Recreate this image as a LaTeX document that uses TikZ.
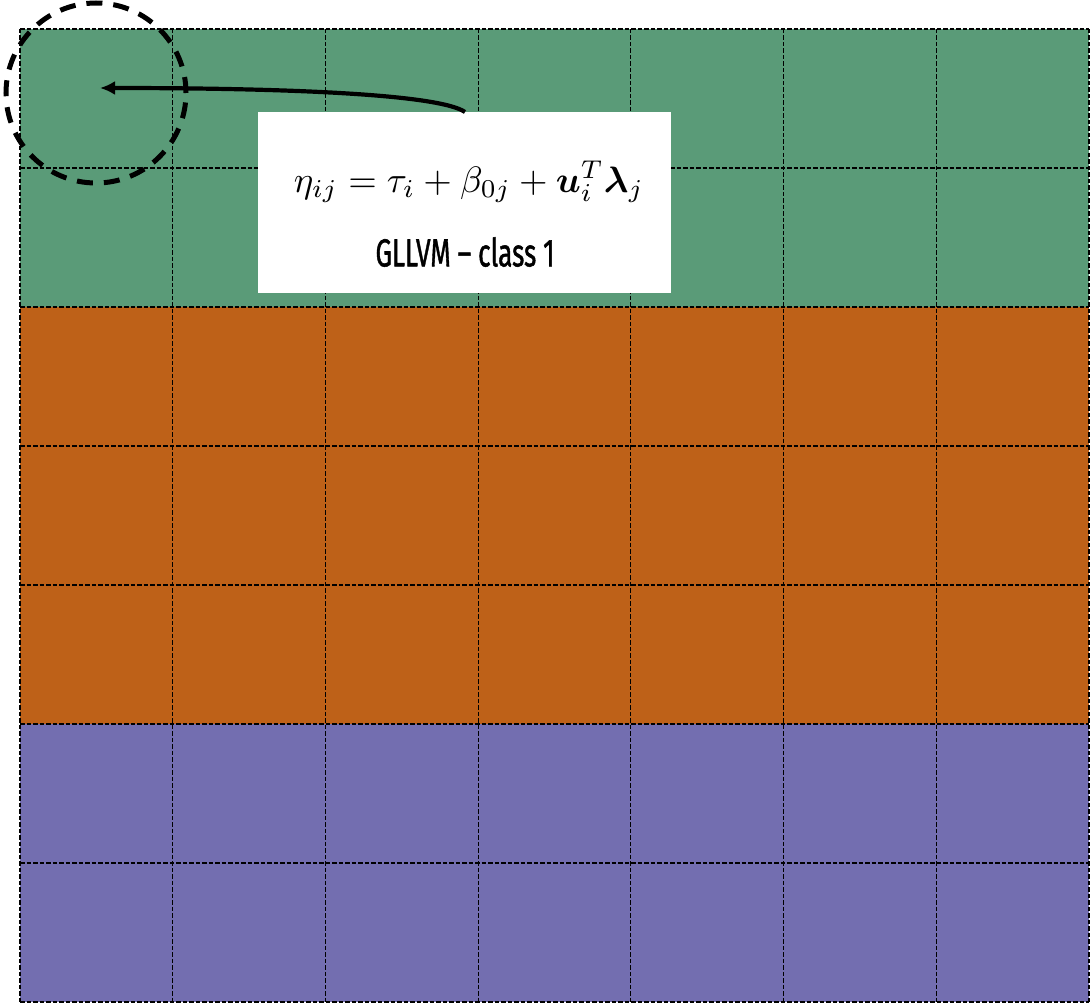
\documentclass[tikz,border=0pt]{standalone}
\usepackage{fontspec}
\usepackage{amsmath,bm}
\usetikzlibrary{arrows.meta}
\newfontfamily\labelfont[FakeBold=1.4]{Fira Sans}
\definecolor{cgreen}{RGB}{90,155,120}
\definecolor{corange}{RGB}{190,97,24}
\definecolor{cpurple}{RGB}{115,110,176}
\tikzset{
  gridline/.style={draw=black, line width=1.1pt, dash pattern=on 4.5pt off 2pt},
  hilite/.style={draw=black, line width=5pt, dash pattern=on 16pt off 11pt, circle, minimum size=180pt, inner sep=0pt},
  infobox/.style={fill=white, minimum width=413pt, minimum height=181pt, inner sep=0pt},
  pointer/.style={-{Latex[length=15pt,width=14pt]}, line width=4.2pt}
}
\begin{document}
\begin{tikzpicture}[x=1pt,y=-1pt]
\useasboundingbox (0,0) rectangle (1092,1006);
% fills
\foreach \r/\c in {0/cgreen,1/cgreen,2/corange,3/corange,4/corange,5/cpurple,6/cpurple}{
  \fill[\c] (20,{29+139*\r}) rectangle (1089,{29+139*(\r+1)});
}
% grid lines
\foreach \r in {0,...,7}{
  \draw[gridline] (20,{29+139*\r}) -- (1089,{29+139*\r});
}
\foreach \k in {0,...,7}{
  \draw[gridline] ({20+152.714*\k},29) -- ({20+152.714*\k},1003);
}
\node[hilite] (focus) at (96,93) {};
\coordinate (target) at (100,88);
\node[infobox, anchor=north west] (box) at (258,112) {};
\node[inner sep=0pt] (eq) at (469,182) {\scalebox{3.67}{$\eta_{ij} = \tau_i + \beta_{0j} + \bm{u}_i^T\bm{\lambda}_j$}};
\node[inner sep=0pt] (lab) at (465,252) {\labelfont\fontsize{39}{44}\selectfont\scalebox{0.67}[1]{GLLVM – class 1}};
\coordinate (start) at (465,112);
\draw[pointer] (start) .. controls (440,95) and (300,88) .. (target);
\end{tikzpicture}
\end{document}
